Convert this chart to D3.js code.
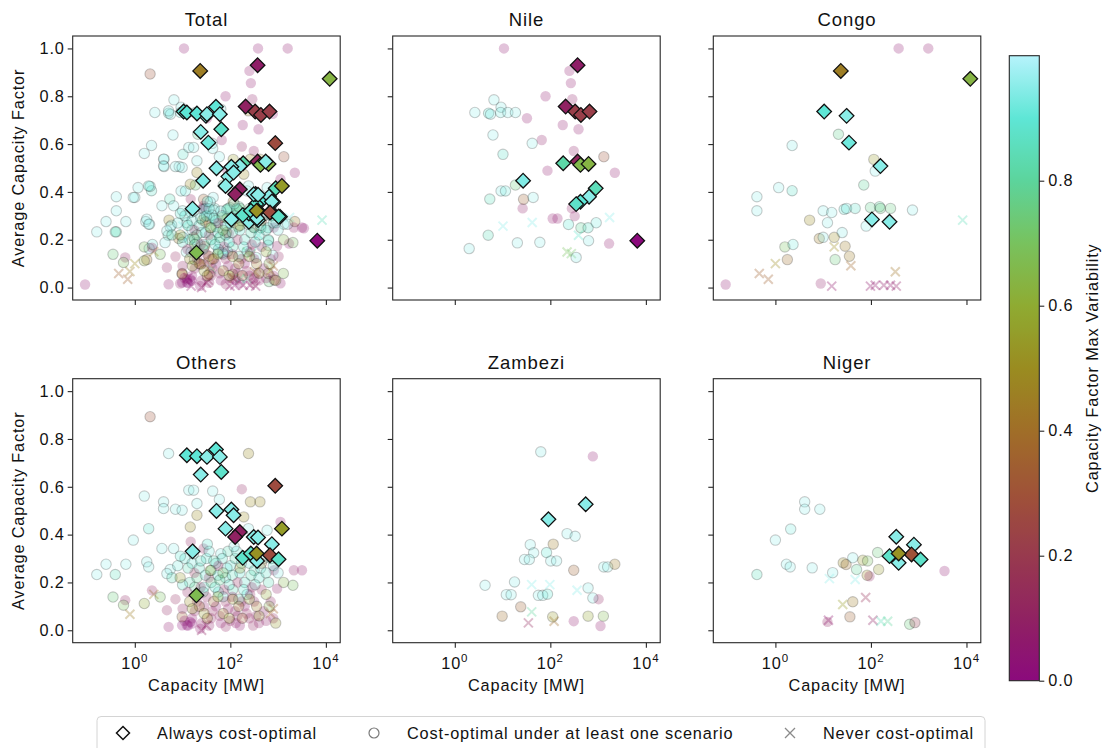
<!DOCTYPE html>
<html><head><meta charset="utf-8">
<script src="https://cdn.jsdelivr.net/npm/d3@7"></script>
<style>body{margin:0;background:#fff}svg{display:block}</style>
</head><body><svg id="c" width="1111" height="748"></svg>
<script>
// ---------- DATA: [capacity MW, average capacity factor, capacity-factor max variability] ----------
const nileAlways = [[372,0.93,0.08],[209,0.757,0.1],[331,0.736,0.22],[437,0.722,0.22],[661,0.736,0.22],[372,0.527,0.12],
 [186,0.52,0.82],[427,0.513,0.66],[631,0.517,0.64],[26.9,0.447,0.94],[891,0.415,0.85],[646,0.38,0.95],[427,0.359,0.9],[347,0.349,0.88],[6607,0.196,0.0]];
const nileSome = [[10.7,1.0,0.05],[251,0.906,0.06],[269,0.855,0.06],[79.4,0.80,0.06],[288,0.788,0.08],[32.4,0.708,0.06],[182,0.68,0.06],
 [389,0.662,0.06],[66.1,0.617,0.08],[309,0.571,0.08],[87.1,0.489,0.06],[2239,0.48,0.06],[26.3,0.331,0.08],[112,0.289,0.06],[141,0.289,0.06],
 [282,0.331,0.08],[324,0.299,0.08],[1698,0.184,0.06],[1318,0.547,0.3],[27.5,0.369,0.35],
 [6.6,0.785,0.96],[2.63,0.732,0.96],[5.1,0.729,0.9],[5.6,0.725,0.95],[9.3,0.754,0.95],[9.1,0.732,0.93],[12.9,0.732,0.96],[18.6,0.732,0.96],
 [6.3,0.638,0.96],[10.2,0.557,0.88],[41.7,0.603,0.96],[9.3,0.404,0.95],[11.5,0.404,0.93],[5.4,0.37,0.86],[43.7,0.377,0.96],[18.6,0.429,0.75],
 [5.0,0.219,0.85],[2.0,0.163,0.95],[20.4,0.187,0.96],[60.3,0.189,0.96],[240,0.264,0.9],[437,0.25,0.8],[617,0.25,0.88],[912,0.271,0.93],
 [631,0.196,0.95],[347,0.126,0.95]];
const nileNever = [[10.2,0.257,0.95],[41.7,0.272,0.95],[1738,0.293,0.95],[389,0.219,0.88],[224,0.149,0.7],[275,0.142,0.72]];

const congoAlways = [[23.4,0.906,0.45],[12023,0.873,0.64],[10.5,0.736,0.9],[30.9,0.718,0.95],[34.7,0.606,0.92],[158,0.508,0.95],[105,0.285,0.95],[245,0.275,0.95]];
const congoSome = [[380,1.0,0.05],[1585,1.0,0.06],[20.9,0.641,0.78],[2.24,0.594,0.95],[115,0.536,0.55],[123,0.487,0.96],[70.8,0.429,0.8],
 [1.17,0.418,0.96],[2.24,0.405,0.88],[0.41,0.38,0.96],[0.41,0.321,0.96],[10,0.321,0.96],[15.1,0.314,0.96],[27.5,0.327,0.9],[30.9,0.331,0.92],
 [46.8,0.331,0.88],[97.7,0.335,0.78],[151,0.338,0.82],[158,0.331,0.75],[257,0.331,0.76],[741,0.324,0.96],[5.2,0.282,0.5],[12.3,0.271,0.96],
 [79.4,0.257,0.96],[25,0.23,0.95],[8.3,0.205,0.45],[10,0.21,0.95],[17,0.21,0.5],[1.58,0.17,0.7],[2.34,0.18,0.93],[28.8,0.173,0.45],
 [35.5,0.131,0.45],[1.78,0.117,0.4],[17.8,0.117,0.75],[0.091,0.013,0.05],[8.9,0.017,0.08]];
const congoNever = [[8318,0.282,0.85],[1.0,0.1,0.5],[0.46,0.059,0.35],[0.71,0.035,0.35],[17,0.17,0.5],[38,0.091,0.38],[324,0.066,0.42],
 [15.1,0.006,0.06],[97.7,0.006,0.06],[123,0.01,0.06],[186,0.01,0.08],[257,0.01,0.06],[339,0.006,0.08]];

const zambeziAlways = [[91.2,0.464,0.95],[550,0.527,0.95]];
const zambeziSome = [[63.1,0.746,0.95],[776,0.727,0.05],[224,0.404,0.96],[331,0.393,0.96],[38,0.358,0.96],[115,0.36,0.45],[44.7,0.324,0.96],
 [83.2,0.325,0.9],[28.8,0.296,0.96],[36.3,0.296,0.96],[102,0.29,0.96],[135,0.29,0.96],[1318,0.265,0.96],[1585,0.265,0.96],[2239,0.276,0.45],
 [309,0.251,0.35],[17.8,0.202,0.95],[4.3,0.188,0.96],[12,0.149,0.96],[15.1,0.149,0.96],[56.2,0.146,0.96],[69.2,0.146,0.96],[87.1,0.151,0.9],
 [617,0.177,0.95],[776,0.135,0.95],[1023,0.13,0.1],[24,0.098,0.35],[9.8,0.059,0.4],[112,0.056,0.55],[617,0.059,0.58],[1288,0.059,0.66],
 [309,0.038,0.06],[1122,0.018,0.06]];
const zambeziNever = [[40.7,0.191,0.95],[97.7,0.191,0.95],[363,0.167,0.95],[40.7,0.077,0.8],[34.7,0.031,0.12],[120,0.038,0.4]];

const nigerAlways = [[339,0.391,0.95],[794,0.358,0.95],[245,0.31,0.88],[380,0.282,0.95],[708,0.317,0.3],[380,0.321,0.52],[1096,0.296,0.88]];
const nigerSome = [[4.1,0.537,0.96],[4.1,0.506,0.96],[8.5,0.506,0.96],[2.09,0.423,0.93],[1.0,0.377,0.96],[1.7,0.276,0.96],[2.04,0.265,0.96],
 [5.9,0.261,0.96],[0.41,0.233,0.86],[15.8,0.241,0.96],[26.3,0.282,0.5],[30.2,0.275,0.4],[41.7,0.303,0.96],[50,0.254,0.8],[67.6,0.293,0.55],
 [85.1,0.29,0.7],[138,0.325,0.75],[145,0.254,0.55],[83.2,0.23,0.5],[93.3,0.226,0.1],[3467,0.248,0.05],[41.7,0.119,0.45],[36.3,0.056,0.35],
 [646,0.025,0.75],[832,0.032,0.2],[12.3,0.035,0.1]];
const nigerNever = [[12.9,0.042,0.05],[25.7,0.108,0.55],[77.6,0.137,0.15],[110,0.042,0.1],[162,0.038,0.85],[224,0.038,0.8],[13.5,0.216,0.95],[46.8,0.212,0.95]];

const othersAlways = [[12.3,0.732,0.9],[20,0.728,0.9],[32.4,0.725,0.95],[50,0.756,0.9],[60.3,0.725,0.95],[24,0.651,0.95],[64.6,0.662,0.88],
 [871,0.604,0.27],[51.3,0.499,0.95],[105,0.505,0.95],[117,0.481,0.95],[79.4,0.425,0.95],[158,0.411,0.1],[126,0.39,0.1],[309,0.39,0.95],
 [380,0.388,0.95],[1202,0.425,0.55],[741,0.36,0.95],[16.2,0.33,0.95],[182,0.303,0.88],[269,0.321,0.88],[363,0.29,0.95],[676,0.314,0.27],
 [355,0.321,0.52],[1023,0.297,0.88],[19.5,0.146,0.67]];
const othersSome = [[2.09,0.893,0.3],[5.1,0.739,0.96],[240,0.739,0.5],[1.58,0.561,0.96],[4.0,0.537,0.96],[4.0,0.509,0.96],[7.1,0.506,0.96],
 [9.8,0.502,0.96],[13.5,0.586,0.96],[17,0.586,0.96],[20,0.53,0.96],[42.7,0.582,0.96],[58.9,0.547,0.96],[174,0.59,0.1],[263,0.537,0.5],
 [191,0.474,0.5],[1.95,0.425,0.9],[0.93,0.377,0.96],[3.7,0.342,0.96],[6.5,0.342,0.96],[1.78,0.286,0.96],[1.95,0.265,0.96],[0.65,0.276,0.96],
 [0.25,0.276,0.96],[0.16,0.233,0.96],[0.39,0.233,0.86],[5.5,0.254,0.96],[14.8,0.37,0.1],[27.5,0.342,0.1],[14.5,0.432,0.5],[20,0.481,0.5],
 [417,0.537,0.5],[240,0.425,0.96],[589,0.418,0.96],[1122,0.453,0.06],[3162,0.251,0.06],[2138,0.251,0.08],[2042,0.188,0.7],[813,0.251,0.08],
 [955,0.174,0.08],[0.35,0.139,0.75],[0.63,0.126,0.1],[0.58,0.105,0.7],[1.58,0.112,0.6],[2.29,0.167,0.1],[4.7,0.237,0.96],[3.4,0.139,0.7],
 [4.7,0.084,0.1],[5.1,0.014,0.06],[9.8,0.021,0.02],[12.3,0.021,0.02],[15.8,0.028,0.03],[23.4,0.007,0.05],[9.8,0.056,0.35],
 [11.2,0.30,0.9],[15.8,0.28,0.92],[22.4,0.26,0.88],[31.6,0.3,0.9],[39.8,0.25,0.85],[50,0.28,0.9],[63.1,0.32,0.95],[79.4,0.22,0.88],
 [100,0.27,0.9],[126,0.3,0.85],[158,0.24,0.9],[200,0.2,0.88],[251,0.28,0.92],[316,0.25,0.85],[398,0.22,0.9],[501,0.3,0.95],[794,0.27,0.9],
 [1000,0.24,0.95],[14.1,0.2,0.85],[28.2,0.18,0.9],[56.2,0.16,0.88],[112,0.17,0.85],[224,0.15,0.9],[39.8,0.2,0.8],[20,0.22,0.8],[7.9,0.27,0.93],
 [10,0.19,0.88],[631,0.2,0.85],[70.8,0.14,0.9],[89.1,0.33,0.85],
 [9,0.31,0.9],[13,0.26,0.85],[17,0.32,0.92],[24,0.29,0.88],[30,0.23,0.9],[36,0.33,0.93],[45,0.29,0.86],[55,0.23,0.9],[68,0.3,0.88],
 [85,0.26,0.92],[110,0.23,0.86],[135,0.33,0.9],[170,0.28,0.88],[210,0.31,0.92],[270,0.23,0.86],[340,0.3,0.9],[430,0.26,0.92],[560,0.24,0.88],
 [720,0.3,0.86],[27,0.16,0.85],[48,0.18,0.9],[95,0.19,0.88],[150,0.13,0.85],[190,0.17,0.9],[330,0.19,0.88],[60,0.21,0.8],[18,0.18,0.8],
 [120,0.35,0.95],[33,0.36,0.9],[6,0.22,0.85],
 [12.6,0.16,0.1],[20,0.12,0.08],[31.6,0.14,0.1],[50,0.1,0.05],[79.4,0.12,0.12],[126,0.08,0.1],[200,0.1,0.05],[316,0.12,0.1],[501,0.08,0.08],
 [794,0.05,0.1],[15.8,0.05,0.05],[25,0.03,0.08],[39.8,0.05,0.1],[63.1,0.03,0.05],[100,0.04,0.1],[158,0.02,0.05],[251,0.05,0.1],[398,0.03,0.08],
 [10,0.09,0.1],[7.1,0.13,0.12],[35.5,0.22,0.15],[141,0.2,0.12],[282,0.18,0.1],[17.8,0.24,0.15],[56.2,0.27,0.1],
 [13,0.02,0.02],[14.5,0.035,0.03],[11,0.04,0.05],[18,0.08,0.1],[28,0.1,0.08],[42,0.08,0.12],[60,0.06,0.1],[90,0.09,0.08],[140,0.06,0.1],
 [220,0.07,0.12],[350,0.06,0.1],[560,0.04,0.08],[700,0.12,0.1],[24,0.18,0.12],[75,0.17,0.1],[110,0.14,0.08],[170,0.12,0.15],[260,0.15,0.1],
 [450,0.17,0.12],[36,0.02,0.08],[80,0.015,0.1],[130,0.03,0.06],[300,0.02,0.1],
 [22.4,0.1,0.4],[44.7,0.12,0.35],[70.8,0.07,0.45],[112,0.13,0.5],[178,0.05,0.35],[355,0.1,0.45],[28.2,0.07,0.55],[562,0.15,0.6],
 [891,0.03,0.55],[14.1,0.12,0.5],[8.9,0.22,0.55],[447,0.28,0.4],
 [16,0.09,0.55],[33,0.05,0.45],[55,0.14,0.6],[95,0.05,0.55],[150,0.1,0.45],[250,0.13,0.6],[400,0.06,0.55],[650,0.1,0.65],[38,0.25,0.6],
 [160,0.26,0.55],[70,0.24,0.7],[1300,0.2,0.65]];
const othersNever = [[0.79,0.067,0.45],[2.5,0.15,0.45],[692,0.07,0.4],[794,0.09,0.35],[25,0.0,0.1],[31.6,0.02,0.1]];

const panelNames = ["Total","Nile","Congo","Others","Zambezi","Niger"];
const xTickValues = [1, 100, 10000];
const xTickExponents = ["0","2","4"];
const yTickValues = [0, 0.2, 0.4, 0.6, 0.8, 1.0];
const cbarTickValues = [0, 0.2, 0.4, 0.6, 0.8];
const legendLabels = ["Always cost-optimal","Cost-optimal under at least one scenario","Never cost-optimal"];
const cmapColors = ["#8b0a7c","#902262","#983a4e","#9f5238","#a06e28","#9a8c20","#8fab32","#78c25e","#5cd49c","#5ee6d6","#b6f3fb"];

// ---------- derived groups ----------
const totalAlways = [].concat(nileAlways, congoAlways, zambeziAlways, nigerAlways, othersAlways);
const totalSome = [].concat(nileSome, congoSome, zambeziSome, nigerSome, othersSome);
const totalNever = [].concat(nileNever, congoNever, zambeziNever, nigerNever, othersNever);
const groups = {
  Total:[totalAlways,totalSome,totalNever], Nile:[nileAlways,nileSome,nileNever], Congo:[congoAlways,congoSome,congoNever],
  Others:[othersAlways,othersSome,othersNever], Zambezi:[zambeziAlways,zambeziSome,zambeziNever], Niger:[nigerAlways,nigerSome,nigerNever]
};

// ---------- layout ----------
const FONT = '"Liberation Sans", Arial, Helvetica, sans-serif';
const FS = 16.3, LS = "0.85px";
const colX = [72.7, 392.7, 713.3], rowY = [36, 378.7], W = 267.5, H = 264;
const xDomain = [Math.pow(10,-1.3), Math.pow(10,4.3)];
const yDomain = [-0.052, 1.052];
const color = d3.scaleLinear().domain(d3.range(cmapColors.length).map(i => i/(cmapColors.length-1))).range(cmapColors).clamp(true);

const svg = d3.select("#c").style("font-family", FONT);
svg.append("rect").attr("width",1111).attr("height",748).attr("fill","#fff");
const defs = svg.append("defs");

const crossPath = "M-4.5,-4.5L4.5,4.5M-4.5,4.5L4.5,-4.5";
const diamondPath = "M0,-7.3L7.3,0L0,7.3L-7.3,0Z";

panelNames.forEach((name, i) => {
  const r = Math.floor(i/3), c = i%3;
  const x0 = colX[c], y0 = rowY[r];
  const xs = d3.scaleLog().domain(xDomain).range([x0, x0+W]);
  const ys = d3.scaleLinear().domain(yDomain).range([y0+H, y0]);
  const [always, some, never] = groups[name];
  const cid = "clip"+i;
  defs.append("clipPath").attr("id",cid).append("rect").attr("x",x0).attr("y",y0).attr("width",W).attr("height",H);
  const g = svg.append("g").attr("clip-path",`url(#${cid})`);

  g.selectAll("path.nv").data(never).join("path").attr("class","nv")
    .attr("d", crossPath).attr("transform", d => `translate(${xs(d[0])},${ys(d[1])})`)
    .attr("fill","none").attr("stroke", d => color(d[2])).attr("stroke-opacity",0.32).attr("stroke-width",2);

  g.selectAll("circle.sm").data(some).join("circle").attr("class","sm")
    .attr("cx", d => xs(d[0])).attr("cy", d => ys(d[1])).attr("r",5.2)
    .attr("fill", d => color(d[2])).attr("fill-opacity",0.26)
    .attr("stroke", d => d[2] < 0.2 ? "none" : "#000").attr("stroke-opacity",0.2).attr("stroke-width",1.1);

  g.selectAll("path.al").data(always).join("path").attr("class","al")
    .attr("d", diamondPath).attr("transform", d => `translate(${xs(d[0])},${ys(d[1])})`)
    .attr("fill", d => color(d[2])).attr("stroke","#111").attr("stroke-width",1.3);

  // frame
  svg.append("rect").attr("x",x0).attr("y",y0).attr("width",W).attr("height",H)
    .attr("fill","none").attr("stroke","#262626").attr("stroke-width",1.1);

  // y ticks
  const yAx = d3.axisLeft(ys).tickValues(yTickValues).tickSize(5).tickFormat(c===0 ? d3.format(".1f") : () => "");
  const ya = svg.append("g").attr("transform",`translate(${x0},0)`).call(yAx);
  ya.select(".domain").remove();
  ya.selectAll(".tick line").attr("stroke","#262626").attr("stroke-width",1.1);
  ya.selectAll(".tick text").attr("font-family",FONT).attr("font-size",FS).attr("letter-spacing",LS).attr("fill","#111").attr("x",-8);

  // x ticks
  const xAx = d3.axisBottom(xs).tickValues(xTickValues).tickSize(5).tickFormat(() => "");
  const xa = svg.append("g").attr("transform",`translate(0,${y0+H})`).call(xAx);
  xa.select(".domain").remove();
  xa.selectAll(".tick line").attr("stroke","#262626").attr("stroke-width",1.1);
  xa.selectAll(".tick text").remove();
  if (r === 1) {
    xTickValues.forEach((v, k) => {
      const t = svg.append("text").attr("x", xs(v)).attr("y", y0+H+26.5).attr("text-anchor","middle")
        .attr("font-size",FS).attr("fill","#111").attr("letter-spacing",LS);
      t.append("tspan").text("10");
      t.append("tspan").attr("dy",-7).attr("font-size",11.5).text(xTickExponents[k]);
    });
    svg.append("text").attr("x", x0+W/2).attr("y", y0+H+48).attr("text-anchor","middle")
      .attr("font-size",FS).attr("letter-spacing",LS).attr("fill","#111").text("Capacity [MW]");
  }
  if (c === 0) {
    svg.append("text").attr("transform",`translate(24,${y0+H/2}) rotate(-90)`).attr("text-anchor","middle")
      .attr("font-size",FS).attr("letter-spacing",LS).attr("fill","#111").text("Average Capacity Factor");
  }
  // title
  svg.append("text").attr("x", x0+W/2).attr("y", y0-10).attr("text-anchor","middle")
    .attr("font-size",18.5).attr("letter-spacing","0.9px").attr("fill","#111").text(name);
});

// ---------- colorbar ----------
const cbX = 1009.3, cbW = 30, cbTop = 55.7, cbBot = 680.7;
const cbScale = d3.scaleLinear().domain([0,1]).range([cbBot, cbTop]);
const grad = defs.append("linearGradient").attr("id","cbg").attr("x1",0).attr("y1",1).attr("x2",0).attr("y2",0);
d3.range(0,1.0001,0.02).forEach(t => grad.append("stop").attr("offset",t).attr("stop-color",color(t)));
svg.append("rect").attr("x",cbX).attr("y",cbTop).attr("width",cbW).attr("height",cbBot-cbTop)
  .attr("fill","url(#cbg)").attr("stroke","#262626").attr("stroke-width",1.1);
const cbAx = svg.append("g").attr("transform",`translate(${cbX+cbW},0)`)
  .call(d3.axisRight(cbScale).tickValues(cbarTickValues).tickSize(5).tickFormat(d3.format(".1f")));
cbAx.select(".domain").remove();
cbAx.selectAll(".tick line").attr("stroke","#262626").attr("stroke-width",1.1);
cbAx.selectAll(".tick text").attr("font-family",FONT).attr("font-size",FS).attr("letter-spacing",LS).attr("fill","#111").attr("x",9);
svg.append("text").attr("transform",`translate(1098,${(cbTop+cbBot)/2}) rotate(-90)`).attr("text-anchor","middle")
  .attr("font-size",FS).attr("letter-spacing",LS).attr("fill","#111").text("Capacity Factor Max Variability");

// ---------- legend ----------
const lg = svg.append("g");
lg.append("rect").attr("x",97).attr("y",716.5).attr("width",888).attr("height",44).attr("rx",4)
  .attr("fill","#fff").attr("stroke","#d4d4d4").attr("stroke-width",1);
const legY = 733;
lg.append("path").attr("d","M0,-6.5L6.5,0L0,6.5L-6.5,0Z").attr("transform",`translate(123,${legY})`)
  .attr("fill","#fff").attr("stroke","#111").attr("stroke-width",1.5);
lg.append("circle").attr("cx",374).attr("cy",legY).attr("r",5).attr("fill","none").attr("stroke","#7a7a7a").attr("stroke-width",1.2);
lg.append("path").attr("d","M-5,-5L5,5M-5,5L5,-5").attr("transform",`translate(790,${legY})`).attr("stroke","#8a8a8a").attr("stroke-width",1.3);
const legX = [157, 407, 823];
legendLabels.forEach((t,k) => lg.append("text").attr("x",legX[k]).attr("y",legY+6).attr("font-size",FS)
  .attr("letter-spacing",LS).attr("fill","#111").text(t));
</script></body></html>
